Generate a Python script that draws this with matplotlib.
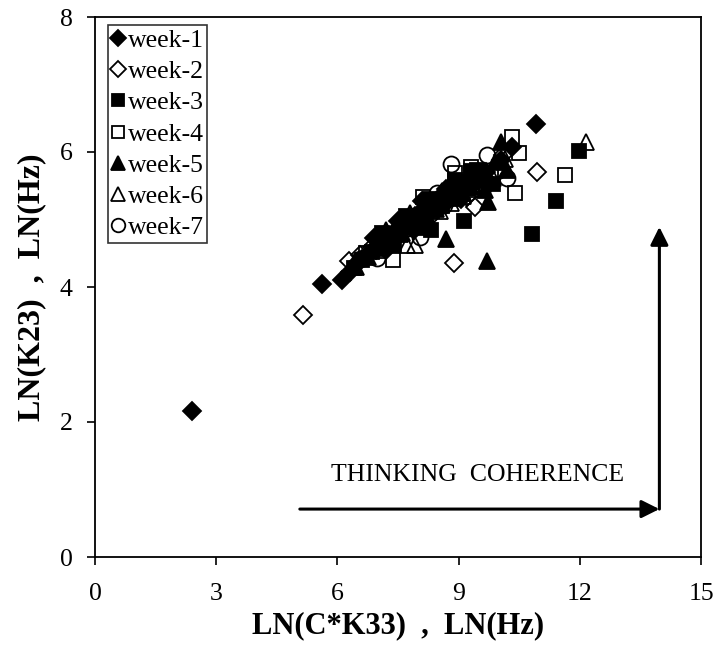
import matplotlib
matplotlib.use("Agg")
import matplotlib.pyplot as plt

plt.rcParams['font.family'] = ['Liberation Serif', 'DejaVu Serif']

# ---- data ----
weeks = ["week-1", "week-2", "week-3", "week-4", "week-5", "week-6", "week-7"]

x1 = [2.40, 5.62, 6.11, 6.30, 6.48, 6.62, 6.80, 6.95, 7.08, 7.22, 7.35, 7.50, 7.64, 7.78,
      7.92, 8.05, 8.20, 8.34, 8.48, 8.60, 8.78, 8.95, 9.15, 9.40, 9.68, 10.05, 10.32, 10.92,
      6.90, 7.20, 7.50, 7.90, 8.10, 8.70, 9.05]
y1 = [2.16, 4.04, 4.10, 4.22, 4.35, 4.42, 4.50, 4.55, 4.66, 4.70, 4.78, 4.84, 4.92, 4.96,
      5.05, 5.10, 5.14, 5.22, 5.30, 5.20, 5.36, 5.42, 5.50, 5.60, 5.70, 5.88, 6.07, 6.41,
      4.72, 4.55, 4.98, 4.85, 5.28, 5.45, 5.30]

x2 = [5.15, 6.29, 6.55, 6.85, 7.10, 7.40, 7.65, 7.95, 8.20, 8.45, 8.70, 8.89, 9.00, 9.20,
      9.41, 9.65, 9.95, 10.10, 10.94]
y2 = [3.59, 4.39, 4.48, 4.60, 4.68, 4.80, 4.90, 5.00, 5.08, 5.18, 5.25, 4.36, 5.38, 5.33,
      5.19, 5.55, 5.70, 5.95, 5.70]

x3 = [6.40, 6.62, 6.85, 7.05, 7.25, 7.45, 7.62, 7.80, 7.98, 8.15, 8.32, 8.50, 8.68, 8.85,
      9.02, 9.13, 9.28, 9.46, 9.62, 9.85, 10.82, 11.41, 11.98,
      7.10, 7.40, 7.70, 8.00, 8.30, 8.90, 9.30]
y3 = [4.28, 4.40, 4.52, 4.62, 4.72, 4.78, 4.88, 4.95, 5.02, 5.08, 4.85, 5.22, 5.30, 5.38,
      5.45, 4.98, 5.55, 5.73, 5.66, 5.52, 4.79, 5.27, 6.01,
      4.80, 4.62, 5.05, 4.88, 5.30, 5.58, 5.72]

x4 = [6.70, 7.00, 7.38, 7.55, 7.85, 8.12, 8.35, 8.60, 8.91, 9.05, 9.31, 9.55, 9.80, 10.32,
      10.40, 10.50, 11.63]
y4 = [4.50, 4.60, 4.40, 4.82, 4.92, 5.33, 5.12, 5.20, 5.69, 5.40, 5.78, 5.58, 5.65, 6.22,
      5.39, 5.98, 5.66]

x5 = [6.45, 6.75, 7.05, 7.35, 7.60, 7.90, 8.20, 8.45, 8.69, 8.85, 9.10, 9.30, 9.50, 9.65,
      9.70, 9.73, 9.90, 10.05, 10.20, 7.20, 7.80, 8.60]
y5 = [4.30, 4.45, 4.58, 4.68, 4.80, 4.92, 5.05, 5.15, 4.71, 5.32, 5.40, 5.48, 5.58, 5.44,
      4.39, 5.26, 5.85, 6.15, 5.73, 4.85, 5.10, 5.42]

x6 = [6.40, 6.70, 7.00, 7.30, 7.55, 7.72, 7.92, 8.25, 8.55, 8.80, 9.10, 9.40, 9.60, 9.85,
      10.15, 12.15]
y6 = [4.33, 4.46, 4.55, 4.70, 4.78, 4.62, 4.62, 5.02, 5.12, 5.25, 5.35, 5.45, 5.52, 5.62,
      5.90, 6.15]

x7 = [6.55, 6.98, 7.20, 7.50, 7.75, 8.04, 8.30, 8.47, 8.65, 8.81, 9.00, 9.30, 9.55, 9.70,
      9.95, 10.20]
y7 = [4.42, 4.43, 4.62, 4.78, 4.88, 4.74, 5.08, 5.39, 5.22, 5.82, 5.35, 5.48, 5.55, 5.96,
      5.72, 5.61]

xs = [x1, x2, x3, x4, x5, x6, x7]
ys = [y1, y2, y3, y4, y5, y6, y7]
markers = ["D", "D", "s", "s", "^", "^", "o"]
filled = [True, False, True, False, True, False, False]
msizes = [9.5, 9.5, 10.5, 10.5, 12, 12, 11.5]

xticks = [0, 3, 6, 9, 12, 15]
yticks = [0, 2, 4, 6, 8]

# ---- figure ----
W, H = 717, 653
fig = plt.figure(figsize=(W / 100, H / 100), dpi=100)
ax = fig.add_axes([95 / W, 1 - 557 / H, 606 / W, 540 / H])

for x, y, lab, m, f, ms in zip(xs, ys, weeks, markers, filled, msizes):
    ax.plot(x, y, linestyle="none", marker=m, markersize=ms,
            markerfacecolor="black" if f else "none",
            markeredgecolor="black", markeredgewidth=1.3, label=lab)

ax.set_xlim(0, 15)
ax.set_ylim(0, 8)
ax.set_xticks(xticks)
ax.set_yticks(yticks)
ax.tick_params(direction="out", length=6, width=1.2, labelsize=18.5, colors="black")
ax.tick_params(axis="x", pad=13)
ax.tick_params(axis="y", pad=10)
for s in ax.spines.values():
    s.set_linewidth(1.3)
    s.set_color("black")

ax.set_xlabel("LN(C*K33)  ,  LN(Hz)", fontsize=22, fontweight="bold", labelpad=4)
ax.set_ylabel("LN(K23)  ,  LN(Hz)", fontsize=23, fontweight="bold", labelpad=10)

leg = ax.legend(loc="upper left", bbox_to_anchor=(0.021, 0.985), borderaxespad=0,
                fontsize=18.5, frameon=True, fancybox=False, edgecolor="black",
                labelspacing=0.32, handlelength=0.5, handletextpad=0.12,
                borderpad=0.15, markerscale=0.85)
leg.get_frame().set_linewidth(1.2)

# arrows
arrow_kw = dict(arrowstyle="-|>,head_length=0.4,head_width=0.2", color="black",
                lw=2.2, shrinkA=0, shrinkB=0, mutation_scale=27)
ax.annotate("", xy=(13.97, 0.71), xytext=(5.07, 0.71), arrowprops=arrow_kw)
ax.annotate("", xy=(13.97, 4.89), xytext=(13.97, 0.71), arrowprops=arrow_kw)
ax.text(9.48, 1.22, "THINKING  COHERENCE", fontsize=18.5, ha="center", va="center")

fig.savefig("out.png", dpi=100)
